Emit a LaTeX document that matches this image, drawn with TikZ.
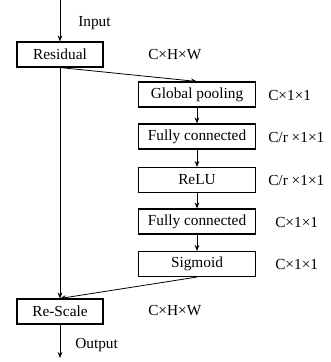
\documentclass[tikz,border=0pt]{standalone}
\usepackage{fontspec}
\setmainfont{Liberation Serif}
\usetikzlibrary{arrows.meta}
\tikzset{
  blk/.style={draw,line width=0.8pt,minimum height=18.75pt,inner sep=0pt,font=\fontsize{11.5}{13}\selectfont},
  lbl/.style={anchor=west,inner sep=0pt,font=\fontsize{11.5}{13}\selectfont},
  arr/.style={-{Stealth[length=4.5pt,width=3.5pt]},line width=0.6pt}
}
\begin{document}
\begin{tikzpicture}[x=0.75pt,y=-0.75pt]
            \useasboundingbox (0,0) rectangle (331,362);
            \def\wl{64.5pt}\def\wr{87.75pt}
            % main line
            \node[blk,minimum width=\wl] (res) at (60,54.5) {Residual};
            \node[blk,minimum width=\wl] (rs) at (60,311.5) {Re-Scale};
            \coordinate (in) at (60,0);
            \coordinate (out) at (60,358);
            % squeeze and excitation branch
            \node[blk,minimum width=\wr] (gp) at (197,94.5) {Global pooling};
            \node[blk,minimum width=\wr] (fc1) at (197,136.5) {Fully connected};
            \node[blk,minimum width=\wr] (relu) at (197,180) {ReLU};
            \node[blk,minimum width=\wr] (fc2) at (197,221.5) {Fully connected};
            \node[blk,minimum width=\wr] (sig) at (197,264) {Sigmoid};
            % sizes
            \node[lbl] (s1) at (148,55) {C×H×W};
            \node[lbl] (s2) at (268,95) {C×1×1};
            \node[lbl] (s3) at (268,137) {C/r ×1×1};
            \node[lbl] (s4) at (268,180) {C/r ×1×1};
            \node[lbl] (s5) at (275,222) {C×1×1};
            \node[lbl] (s6) at (275,264) {C×1×1};
            \node[lbl] (s7) at (148,311) {C×H×W};
            \node[lbl] (lin) at (78,23) {Input};
            \node[lbl] (lout) at (75,345) {Output};
            % arrows
            \draw[arr] (in) -- (res.north);
            \draw[arr] (res.south) -- (rs.north);
            \draw[arr] (res.south) -- (gp.north);
            \draw[arr] (gp) -- (fc1);
            \draw[arr] (fc1) -- (relu);
            \draw[arr] (relu) -- (fc2);
            \draw[arr] (fc2) -- (sig);
            \draw[arr] (sig.south) -- (rs.north);
            \draw[arr] (rs.south) -- (out);
        \end{tikzpicture}
\end{document}
